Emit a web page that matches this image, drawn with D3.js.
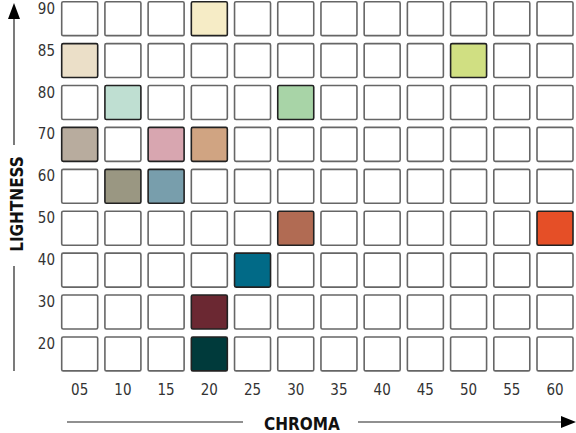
<!DOCTYPE html>
<html>
<head>
<meta charset="utf-8">
<script src="https://cdn.jsdelivr.net/npm/d3@7"></script>
<style>
  body { margin: 0; background: #fff; }
  svg { display: block; }
  text { font-family: "DejaVu Sans Condensed", "DejaVu Sans", sans-serif; font-stretch: condensed; }
</style>
</head>
<body>
<div class="chart"></div>
<script>
var width = 576,
    height = 433;

// grid labels
var chroma = ["05", "10", "15", "20", "25", "30", "35", "40", "45", "50", "55", "60"];
var lightness = ["90", "85", "80", "70", "60", "50", "40", "30", "20"];

// filled swatches (chroma, lightness, colour)
var swatch_chroma = ["20", "05", "50", "10", "30", "05", "15", "20", "10", "15", "30", "60", "25", "20", "20"];
var swatch_lightness = ["90", "85", "85", "80", "80", "70", "70", "70", "60", "60", "50", "50", "40", "30", "20"];
var swatch_color = ["#f6ecc6", "#ebdfc8", "#d0df82", "#bfdfd2", "#a8d4a7", "#b8ac9e", "#d8a6b0", "#d0a482",
                    "#9a9782", "#789eac", "#b16b53", "#e54f27", "#016a87", "#6b2832", "#003a3b"];

var svg = d3.select(".chart").append("svg")
    .attr("width", width)
    .attr("height", height);

var x = d3.scaleBand()
    .domain(chroma)
    .range([61.7, 573])
    .paddingInner(0.167)
    .paddingOuter(0);

var y = d3.scaleBand()
    .domain(lightness)
    .range([1.7, 370.9])
    .paddingInner(0.19)
    .paddingOuter(0);

var cells = [];
lightness.forEach(function(l) {
    chroma.forEach(function(c) { cells.push({c: c, l: l}); });
});

function fillFor(d) {
    for (var i = 0; i < swatch_color.length; i++) {
        if (swatch_chroma[i] === d.c && swatch_lightness[i] === d.l) return swatch_color[i];
    }
    return null;
}

svg.append("g").selectAll("rect")
    .data(cells)
    .enter().append("rect")
    .attr("x", function(d) { return x(d.c); })
    .attr("y", function(d) { return y(d.l); })
    .attr("width", x.bandwidth())
    .attr("height", y.bandwidth())
    .attr("rx", 1.5)
    .attr("fill", function(d) { return fillFor(d) || "#fff"; })
    .attr("stroke", function(d) { return fillFor(d) ? "#222" : "#666"; })
    .attr("stroke-width", 1.6);

// tick labels
svg.append("g").selectAll("text")
    .data(lightness)
    .enter().append("text")
    .attr("x", 55)
    .attr("y", function(d) { return y(d) + 12; })
    .attr("text-anchor", "end")
    .attr("font-size", 15)
    .attr("fill", "#333")
    .text(function(d) { return d; });

svg.append("g").selectAll("text")
    .data(chroma)
    .enter().append("text")
    .attr("x", function(d) { return x(d) + x.bandwidth() / 2; })
    .attr("y", 395)
    .attr("text-anchor", "middle")
    .attr("font-size", 15)
    .attr("fill", "#333")
    .text(function(d) { return d; });

// axis titles with arrows
svg.append("text")
    .attr("x", 302)
    .attr("y", 430)
    .attr("text-anchor", "middle")
    .attr("font-size", 17)
    .attr("font-weight", "bold")
    .attr("fill", "#111")
    .text("CHROMA");

svg.append("line")
    .attr("x1", 67).attr("x2", 243).attr("y1", 422).attr("y2", 422)
    .attr("stroke", "#222").attr("stroke-width", 1.2);
svg.append("line")
    .attr("x1", 358).attr("x2", 562).attr("y1", 422).attr("y2", 422)
    .attr("stroke", "#222").attr("stroke-width", 1.2);
svg.append("path")
    .attr("d", "M576,422 L561,416 L561,428 Z")
    .attr("fill", "#000");

svg.append("text")
    .attr("transform", "translate(23,204) rotate(-90)")
    .attr("text-anchor", "middle")
    .attr("font-size", 17)
    .attr("font-weight", "bold")
    .attr("fill", "#111")
    .text("LIGHTNESS");

svg.append("line")
    .attr("x1", 14).attr("x2", 14).attr("y1", 18).attr("y2", 145)
    .attr("stroke", "#222").attr("stroke-width", 1.2);
svg.append("line")
    .attr("x1", 14).attr("x2", 14).attr("y1", 266).attr("y2", 371)
    .attr("stroke", "#222").attr("stroke-width", 1.2);
svg.append("path")
    .attr("d", "M14,3 L8,19 L20,19 Z")
    .attr("fill", "#000");
</script>
</body>
</html>
